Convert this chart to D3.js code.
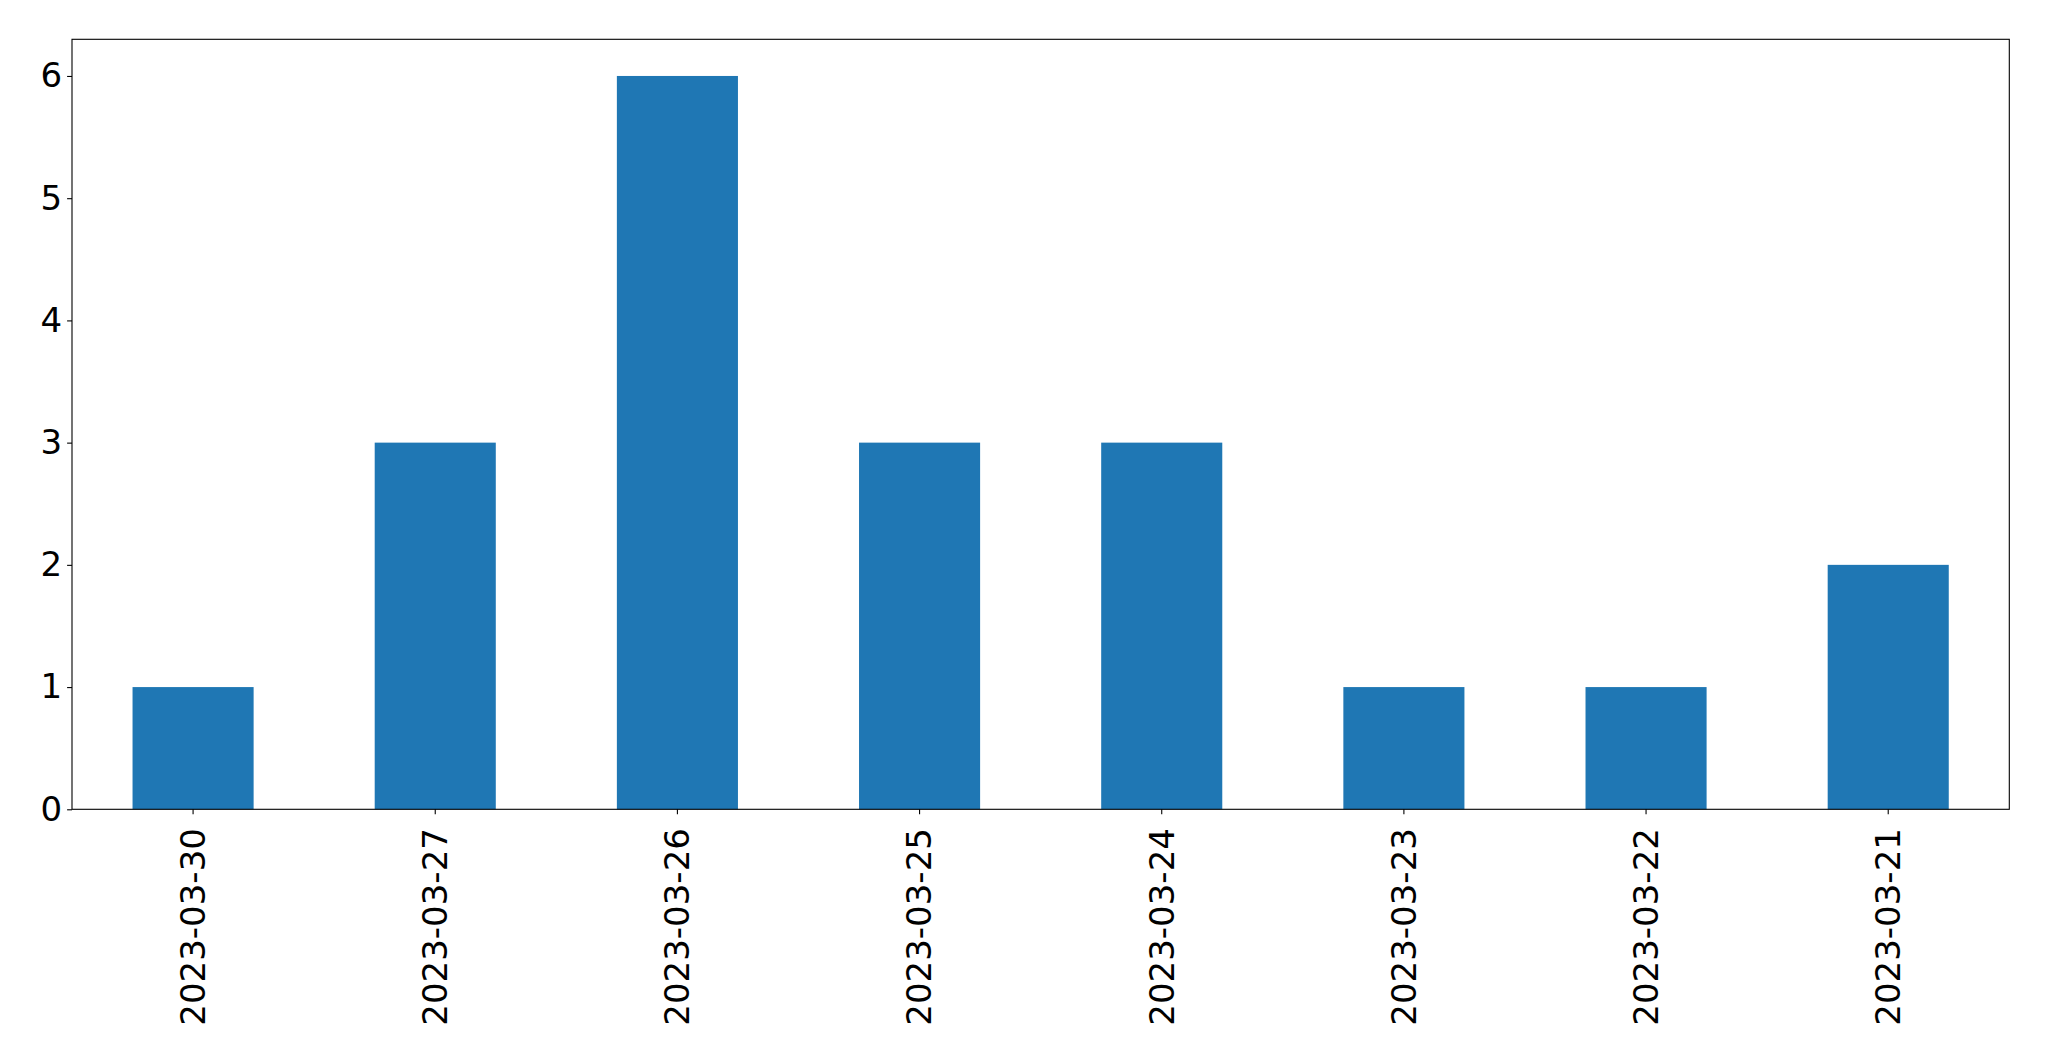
<!DOCTYPE html>
<html><head><meta charset="utf-8">
<script src="https://cdn.jsdelivr.net/npm/d3@7"></script>
<style>body{margin:0;background:#fff}svg{display:block}text{font-family:"DejaVu Sans",sans-serif}</style>
</head><body>
<script>
const categories = ["2023-03-30","2023-03-27","2023-03-26","2023-03-25","2023-03-24","2023-03-23","2023-03-22","2023-03-21"];
const values = [1,3,6,3,3,1,1,2];
const yTicks = [0,1,2,3,4,5,6];

const W = 2049, H = 1061;
const m = {left: 72, top: 39.3, right: 2049-2009.3, bottom: 1061-809.3};
const svg = d3.select("body").append("svg").attr("width", W).attr("height", H);
const iw = W - m.left - m.right, ih = H - m.top - m.bottom;
const g = svg.append("g").attr("transform", `translate(${m.left},${m.top})`);

const x = d3.scaleBand().domain(categories).range([0, iw]).paddingInner(0.5).paddingOuter(0.25);
const y = d3.scaleLinear().domain([0, 6.3]).range([ih, 0]);

g.selectAll("rect.bar").data(values).join("rect").attr("class","bar")
  .attr("x", (d,i) => x(categories[i])).attr("width", x.bandwidth())
  .attr("y", d => y(d)).attr("height", d => y(0) - y(d))
  .attr("fill", "#1f77b4");

const fs = 34;
const ya = g.append("g").call(d3.axisLeft(y).tickValues(yTicks).tickFormat(d3.format("d")).tickSize(4.9).tickPadding(4.9));
ya.select(".domain").remove();
ya.selectAll("text").attr("font-size", fs).attr("fill","#000").attr("font-family","DejaVu Sans");
ya.selectAll("line").attr("stroke","#000").attr("stroke-width",1.1);

const xa = g.append("g").attr("transform", `translate(0,${ih})`).call(d3.axisBottom(x).tickSize(4.9).tickPadding(4.9));
xa.select(".domain").remove();
xa.selectAll("line").attr("stroke","#000").attr("stroke-width",1.1);
xa.selectAll("text").attr("font-size", fs).attr("fill","#000").attr("font-family","DejaVu Sans")
  .attr("transform","rotate(-90)").attr("text-anchor","end").attr("dy","0.35em")
  .attr("x", -(4.9+4.9+9)).attr("y", 0);

g.append("rect").attr("x",0).attr("y",0).attr("width",iw).attr("height",ih)
  .attr("fill","none").attr("stroke","#000").attr("stroke-width",1.1);
</script>
</body></html>
